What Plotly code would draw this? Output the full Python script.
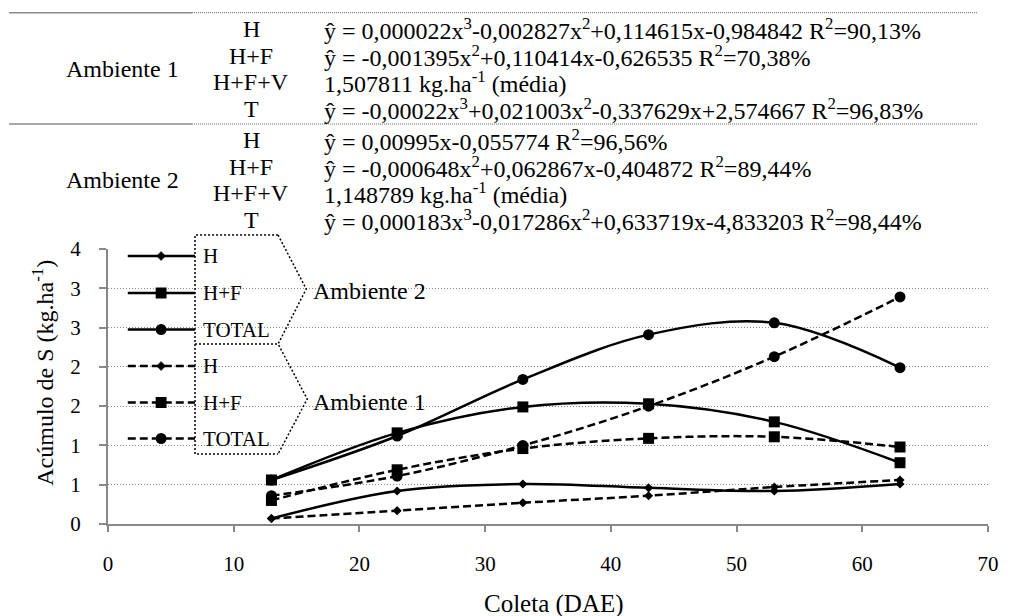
import plotly.graph_objects as go

# Collection days (DAE)
DAE = [13, 23, 33, 43, 53, 63]

# Accumulated S (kg/ha) - Ambiente 2 (solid lines)
amb2_h = [0.07, 0.42, 0.51, 0.46, 0.42, 0.51]
amb2_hf = [0.56, 1.16, 1.49, 1.53, 1.30, 0.78]
amb2_total = [0.56, 1.12, 1.84, 2.41, 2.56, 1.99]

# Accumulated S (kg/ha) - Ambiente 1 (dashed lines)
amb1_h = [0.07, 0.17, 0.27, 0.36, 0.47, 0.56]
amb1_hf = [0.30, 0.69, 0.96, 1.09, 1.11, 0.98]
amb1_total = [0.36, 0.61, 1.00, 1.50, 2.13, 2.89]

# Axis ticks
X_TICKS = [0, 10, 20, 30, 40, 50, 60, 70]
Y_TICKS = [0, 0.5, 1.0, 1.5, 2.0, 2.5, 3.0, 3.5]
Y_TICK_TEXT = ["0", "1", "1", "2", "2", "3", "3", "4"]

# Regression table
TABLE_GROUPS = ["Ambiente 1", "Ambiente 2"]
TABLE_TREATMENTS = ["H", "H+F", "H+F+V", "T"]
TABLE_EQUATIONS = [
    [
        "ŷ = 0,000022x<sup>3</sup>-0,002827x<sup>2</sup>+0,114615x-0,984842 R<sup>2</sup>=90,13%",
        "ŷ = -0,001395x<sup>2</sup>+0,110414x-0,626535 R<sup>2</sup>=70,38%",
        "1,507811 kg.ha<sup>-1</sup> (média)",
        "ŷ = -0,00022x<sup>3</sup>+0,021003x<sup>2</sup>-0,337629x+2,574667 R<sup>2</sup>=96,83%",
    ],
    [
        "ŷ = 0,00995x-0,055774 R<sup>2</sup>=96,56%",
        "ŷ = -0,000648x<sup>2</sup>+0,062867x-0,404872 R<sup>2</sup>=89,44%",
        "1,148789 kg.ha<sup>-1</sup> (média)",
        "ŷ = 0,000183x<sup>3</sup>-0,017286x<sup>2</sup>+0,633719x-4,833203 R<sup>2</sup>=98,44%",
    ],
]

LEGEND_LABELS = ["H", "H+F", "TOTAL"]

FONT = "Liberation Serif, Times New Roman, serif"
W, H = 1011, 616
ML, MR, MT, MB = 108, 13, 249, 92
PW = W - ML - MR
PH = H - MT - MB


def fx(px):
    return (px - ML) / PW


def fy(py):
    return (H - MB - py) / PH


def tfont(size):
    return dict(family=FONT, size=size, color="black")


DASH = "8px,4px"
SYMBOLS = [("diamond", 7), ("square", 11), ("circle", 11)]

fig = go.Figure()

series = [
    (amb2_h, "solid", 0), (amb2_total, "solid", 2), (amb2_hf, "solid", 1),
    (amb1_h, DASH, 0), (amb1_hf, DASH, 1), (amb1_total, DASH, 2),
]
for ys, dash, k in series:
    sym, size = SYMBOLS[k]
    fig.add_trace(go.Scatter(
        x=DAE, y=ys, mode="lines+markers",
        line=dict(color="black", width=2.5, dash=dash, shape="spline", smoothing=1),
        marker=dict(symbol=sym, size=size, color="black"),
        showlegend=False, hoverinfo="skip",
    ))

shapes = []
annotations = []

# Table rules
for py in (12.7, 124):
    shapes.append(dict(type="line", xref="paper", yref="paper",
                       x0=fx(8), x1=fx(193), y0=fy(py), y1=fy(py),
                       line=dict(color="#8a8a8a", width=1.5)))
    shapes.append(dict(type="line", xref="paper", yref="paper",
                       x0=fx(193), x1=fx(988), y0=fy(py), y1=fy(py),
                       line=dict(color="#666666", width=1, dash="1px,1px")))

# Table text
group_tops = [29, 140]
ROW_STEP = 26.7
for g, group in enumerate(TABLE_GROUPS):
    rows_y = [group_tops[g] + i * ROW_STEP for i in range(4)]
    annotations.append(dict(text=group, x=fx(123), y=fy(sum(rows_y) / 4),
                            xref="paper", yref="paper", showarrow=False,
                            xanchor="center", yanchor="middle",
                            font=tfont(24)))
    for i, (trt, eq) in enumerate(zip(TABLE_TREATMENTS, TABLE_EQUATIONS[g])):
        annotations.append(dict(text=trt, x=fx(253), y=fy(rows_y[i]),
                                xref="paper", yref="paper", showarrow=False,
                                xanchor="center", yanchor="middle",
                                font=tfont(24)))
        annotations.append(dict(text=eq, x=fx(324), y=fy(rows_y[i]),
                                xref="paper", yref="paper", showarrow=False,
                                xanchor="left", yanchor="middle",
                                font=tfont(24)))

# Custom legend: two dotted brackets with chevrons
box_dot = dict(color="black", width=1.5, dash="2px,2px")


def path(points):
    return "M " + " L ".join(f"{fx(a)},{fy(b)}" for a, b in points)


shapes.append(dict(type="path", xref="paper", yref="paper",
                   path=path([(280, 235), (196, 235), (196, 454), (280, 454)]),
                   line=box_dot))
shapes.append(dict(type="path", xref="paper", yref="paper",
                   path=path([(196, 344), (280, 344)]), line=box_dot))
shapes.append(dict(type="path", xref="paper", yref="paper",
                   path=path([(280, 235), (308.5, 289), (280, 344), (309.5, 399), (280, 454)]),
                   line=box_dot))

legend_rows = [256, 293, 329.5, 366, 402.5, 438.5]
for r, py in enumerate(legend_rows):
    k = r % 3
    dash = "solid" if r < 3 else DASH
    shapes.append(dict(type="line", xref="paper", yref="paper",
                       x0=fx(128), x1=fx(196), y0=fy(py), y1=fy(py),
                       line=dict(color="black", width=2.5, dash=dash)))
    cx = 161.7
    if k == 0:
        shapes.append(dict(type="path", xref="paper", yref="paper",
                           path=path([(cx, py - 4.5), (cx + 4.5, py), (cx, py + 4.5), (cx - 4.5, py)]) + " Z",
                           fillcolor="black", line=dict(color="black", width=0.5)))
    elif k == 1:
        shapes.append(dict(type="rect", xref="paper", yref="paper",
                           x0=fx(cx - 5.5), x1=fx(cx + 5.5), y0=fy(py - 5.5), y1=fy(py + 5.5),
                           fillcolor="black", line=dict(color="black", width=0)))
    else:
        shapes.append(dict(type="circle", xref="paper", yref="paper",
                           x0=fx(cx - 5.5), x1=fx(cx + 5.5), y0=fy(py - 5.5), y1=fy(py + 5.5),
                           fillcolor="black", line=dict(color="black", width=0)))
    annotations.append(dict(text=LEGEND_LABELS[k], x=fx(202), y=fy(py),
                            xref="paper", yref="paper", showarrow=False,
                            xanchor="left", yanchor="middle",
                            font=tfont(21)))

for name, py in (("Ambiente 2", 291), ("Ambiente 1", 402)):
    annotations.append(dict(text=name, x=fx(313), y=fy(py),
                            xref="paper", yref="paper", showarrow=False,
                            xanchor="left", yanchor="middle",
                            font=tfont(24)))

# Axis titles
annotations.append(dict(text="Coleta (DAE)", x=fx(559), y=fy(604),
                        xref="paper", yref="paper", showarrow=False,
                        xanchor="center", yanchor="middle", font=tfont(25)))
annotations.append(dict(text="Acúmulo de S (kg.ha<sup>-1</sup>)", x=fx(42), y=fy(373),
                        xref="paper", yref="paper", showarrow=False, textangle=-90,
                        xanchor="center", yanchor="middle", font=tfont(24)))

fig.update_layout(
    width=W, height=H,
    margin=dict(l=ML, r=MR, t=MT, b=MB, pad=0),
    paper_bgcolor="white", plot_bgcolor="white",
    font=tfont(21),
    showlegend=False,
    shapes=shapes, annotations=annotations,
    xaxis=dict(range=[0, 70], tickvals=X_TICKS, showgrid=False, zeroline=False,
               showline=True, linecolor="#888888", linewidth=2,
               ticks="outside", ticklen=6, tickwidth=2, tickcolor="#888888",
               tickfont=tfont(21), ticklabelstandoff=14),
    yaxis=dict(range=[0, 3.5], tickvals=Y_TICKS, ticktext=Y_TICK_TEXT,
               showgrid=True, gridcolor="#8c8c8c", gridwidth=1, griddash="1px,2px",
               zeroline=False, showline=True, linecolor="#888888", linewidth=2,
               ticks="outside", ticklen=7, tickwidth=2, tickcolor="#888888",
               tickfont=tfont(21), ticklabelstandoff=14),
)

fig.write_html("out.html")
